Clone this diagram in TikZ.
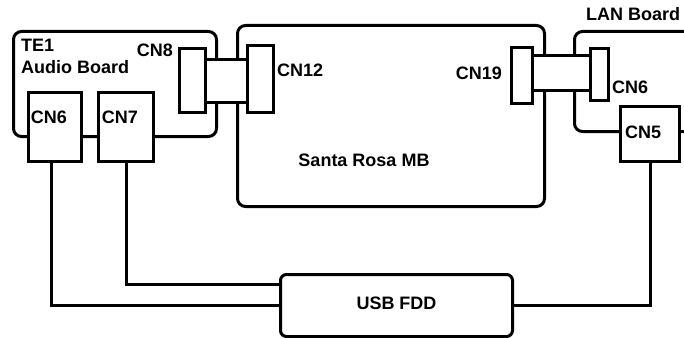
\documentclass[tikz,border=0pt]{standalone}
\usepackage{fontspec}
\setmainfont{Liberation Sans}
\begin{document}
\begin{tikzpicture}[x=1pt,y=-1pt,
  every node/.style={font=\fontsize{18}{21}\selectfont\bfseries},
  box/.style={draw, line width=3pt, fill=white, inner sep=0pt, anchor=north west},
  board/.style={draw, line width=3pt, rounded corners=8pt, inner sep=0pt, anchor=north west},
  wire/.style={line width=3pt},
  lbl/.style={inner sep=0pt}]
\useasboundingbox (0,0) rectangle (684,337);
\clip (0,0) rectangle (684,337);
% boards
\node[board, minimum width=203pt, minimum height=105pt] (audio) at (12,30) {};
\node[board, minimum width=307pt, minimum height=181pt] (mb) at (236,24) {};
\node[board, minimum width=150pt, minimum height=100pt] (lan) at (573,30) {};
% connectors
\node[box, minimum width=53pt, minimum height=69pt] (cn6a) at (27,91) {};
\node[box, minimum width=55pt, minimum height=69pt] (cn7) at (97,91) {};
\node[box, minimum width=26pt, minimum height=64pt] (cn8) at (178,47) {};
\node[box, minimum width=42pt, minimum height=43pt] (cableL) at (204,58) {};
\node[box, minimum width=26pt, minimum height=67pt] (cn12) at (246,44) {};
\node[box, minimum width=21pt, minimum height=56pt] (cn19) at (510,46) {};
\node[box, minimum width=58pt, minimum height=35pt] (cableR) at (531,54) {};
\node[box, minimum width=18pt, minimum height=52pt] (cn6b) at (589,47) {};
\node[box, minimum width=59pt, minimum height=55pt] (cn5) at (619,105) {};
\node[board, fill=white, rounded corners=6pt, minimum width=232pt, minimum height=62pt] (usb) at (279,273) {};
% labels
\node[lbl, anchor=west] (te1) at (21,45) {TE1};
\node[lbl, anchor=west] (audiolbl) at (21,67) {Audio Board};
\node[lbl] (cn6alab) at (49,117) {CN6};
\node[lbl] (cn7lab) at (120,117) {CN7};
\node[lbl, anchor=east] (cn8lab) at (173,50) {CN8};
\node[lbl, anchor=west] (cn12lab) at (277,70) {CN12};
\node[lbl] (mblab) at (364,160) {Santa Rosa MB};
\node[lbl, anchor=east] (cn19lab) at (502,73) {CN19};
\node[lbl, anchor=west] (cn6blab) at (612,87) {CN6};
\node[lbl] (cn5lab) at (643,132) {CN5};
\node[lbl, anchor=west] (lanlab) at (586,14) {LAN Board};
\node[lbl] (usblab) at ([yshift=2pt]usb.center) {USB FDD};
% wires
\draw[wire] ([xshift=-4pt]cn6a.south) |- (usb.west);
\draw[wire] (cn7.south) |- ([yshift=21pt]usb.west);
\draw[wire] (cn5.south) |- (usb.east);
\end{tikzpicture}
\end{document}
